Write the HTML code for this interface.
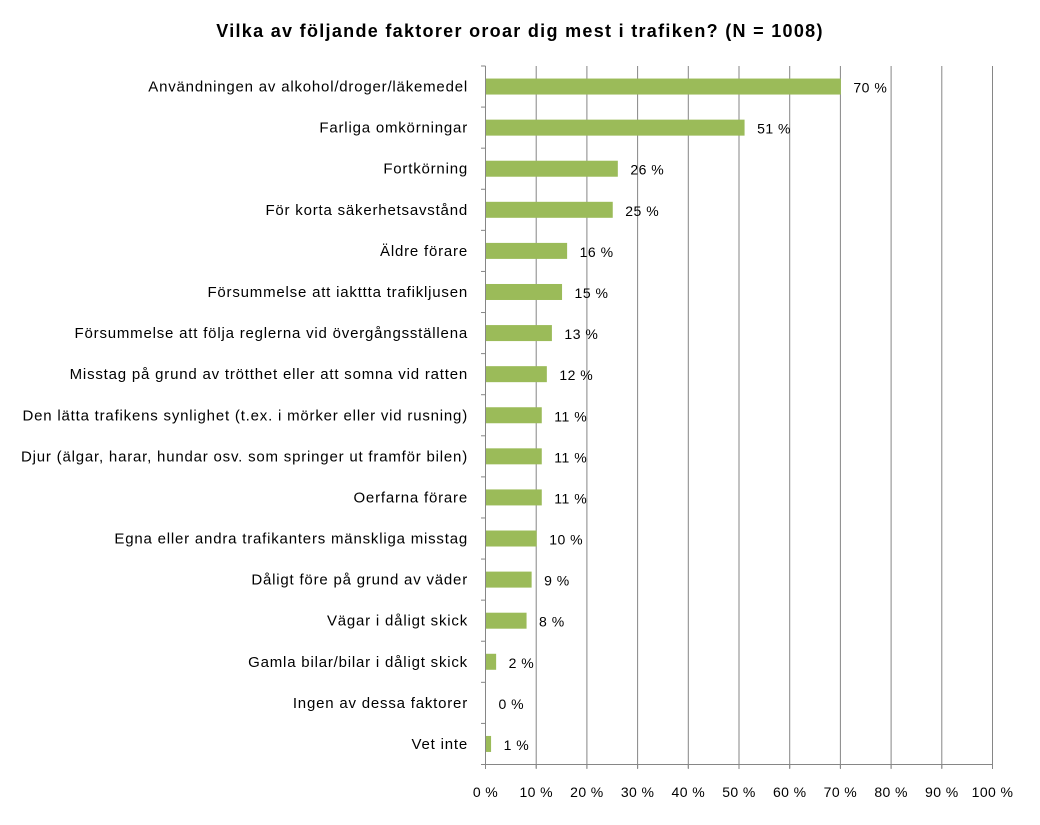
<!DOCTYPE html>
<html><head><meta charset="utf-8"><style>
body{margin:0;background:#fff}
svg{display:block}
text{font-family:"Liberation Sans",Arial,sans-serif;fill:#000}
</style></head><body>
<svg width="1040" height="825" viewBox="0 0 1040 825">
<text x="520" y="37" font-size="18" font-weight="bold" letter-spacing="1.3" text-anchor="middle">Vilka av följande faktorer oroar dig mest i trafiken? (N = 1008)</text>
<g stroke="#868686" stroke-width="1">
<line x1="536.2" y1="66" x2="536.2" y2="768"/><line x1="586.9" y1="66" x2="586.9" y2="768"/><line x1="637.6" y1="66" x2="637.6" y2="768"/><line x1="688.3" y1="66" x2="688.3" y2="768"/><line x1="739" y1="66" x2="739" y2="768"/><line x1="789.7" y1="66" x2="789.7" y2="768"/><line x1="840.4" y1="66" x2="840.4" y2="768"/><line x1="891.1" y1="66" x2="891.1" y2="768"/><line x1="941.8" y1="66" x2="941.8" y2="768"/><line x1="992.5" y1="66" x2="992.5" y2="768"/>
<line x1="485.5" y1="66" x2="485.5" y2="768"/>
<line x1="485.5" y1="764.5" x2="992.5" y2="764.5"/>
</g>
<g id="rows" font-size="15"></g>
<g font-size="14" letter-spacing="0.4" text-anchor="middle">
<text x="485.5" y="797">0 %</text><text x="536.2" y="797">10 %</text><text x="586.9" y="797">20 %</text><text x="637.6" y="797">30 %</text><text x="688.3" y="797">40 %</text><text x="739" y="797">50 %</text><text x="789.7" y="797">60 %</text><text x="840.4" y="797">70 %</text><text x="891.1" y="797">80 %</text><text x="941.8" y="797">90 %</text><text x="992.5" y="797">100 %</text>
</g>
</svg>
<script>
(function(){
var d=[["Användningen av alkohol/droger/läkemedel",70],["Farliga omkörningar",51],["Fortkörning",26],["För korta säkerhetsavstånd",25],["Äldre förare",16],["Försummelse att iakttta trafikljusen",15],["Försummelse att följa reglerna vid övergångsställena",13],["Misstag på grund av trötthet eller att somna vid ratten",12],["Den lätta trafikens synlighet (t.ex. i mörker eller vid rusning)",11],["Djur (älgar, harar, hundar osv. som springer ut framför bilen)",11],["Oerfarna förare",11],["Egna eller andra trafikanters mänskliga misstag",10],["Dåligt före på grund av väder",9],["Vägar i dåligt skick",8],["Gamla bilar/bilar i dåligt skick",2],["Ingen av dessa faktorer",0],["Vet inte",1]];
var g=document.getElementById("rows"),s="",x0=485.5,k=5.07,t0=66,st=(764.5-66)/17;
for(var i=0;i<d.length;i++){var c=t0+st*(i+0.5);var w=d[i][1]*k;
s+='<line x1="481" x2="485.5" y1="'+(t0+st*i)+'" y2="'+(t0+st*i)+'" stroke="#868686"/>';
if(w>0)s+='<rect x="486" y="'+(c-8)+'" width="'+w+'" height="16" fill="#9BBB59"/>';
s+='<text x="468" y="'+(c+5)+'" text-anchor="end" letter-spacing="0.8">'+d[i][0]+'</text>';
s+='<text x="'+(x0+w+13)+'" y="'+(c+6)+'" font-size="14" letter-spacing="0.5">'+d[i][1]+' %</text>';}
s+='<line x1="481" x2="485.5" y1="764.5" y2="764.5" stroke="#868686"/>';
for(var j=0;j<=10;j++){var xx=x0+j*50.7;s+='<line x1="'+xx+'" x2="'+xx+'" y1="764.5" y2="769" stroke="#868686"/>';}
g.innerHTML=s;
})();
</script>
</body></html>
